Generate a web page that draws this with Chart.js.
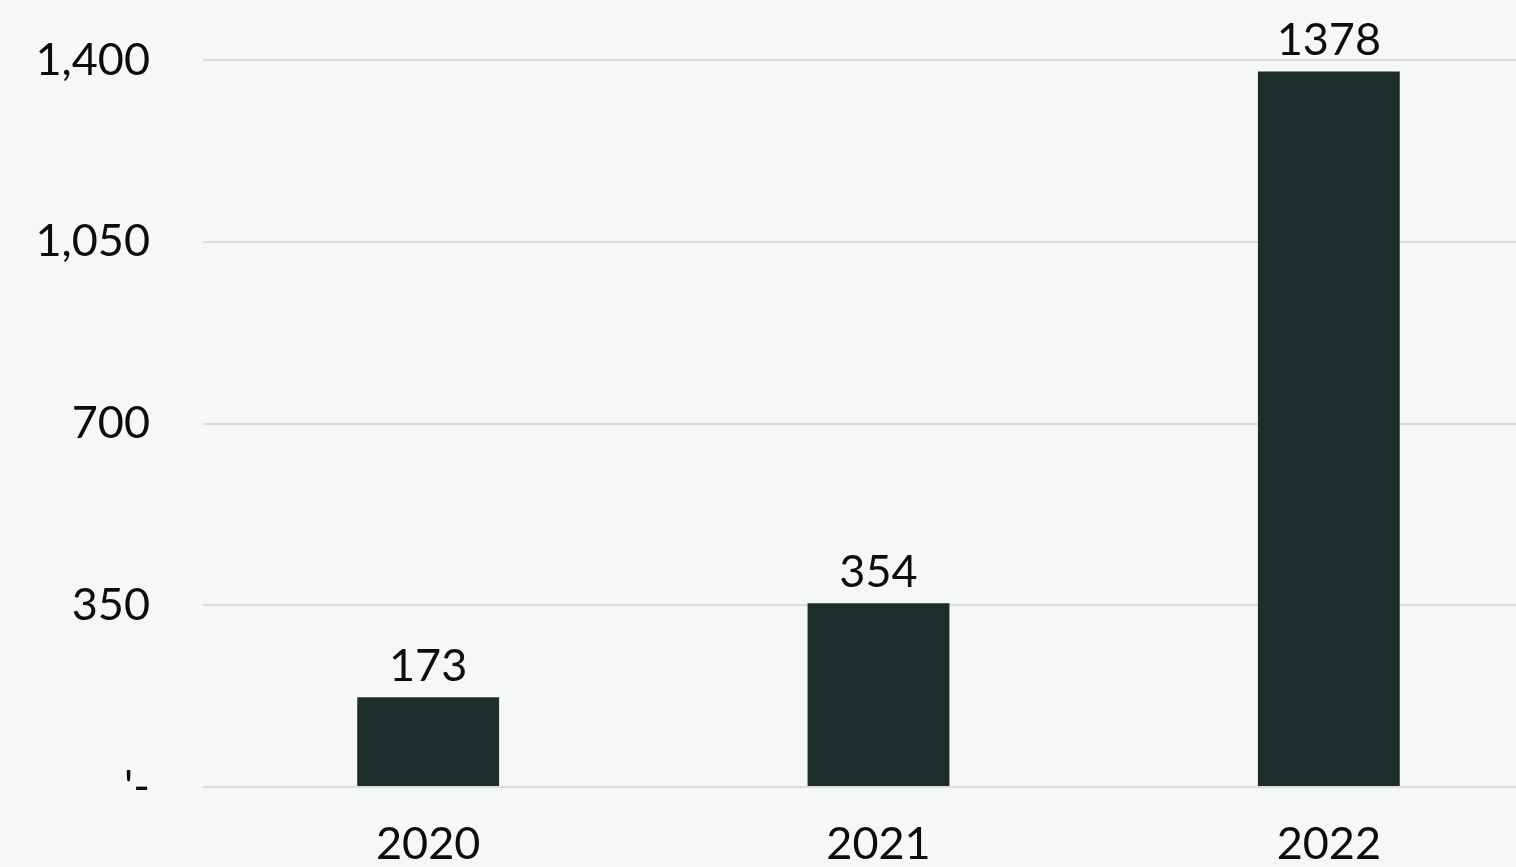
<!DOCTYPE html>
<html>
<head>
<meta charset="utf-8">
<script src="https://cdn.jsdelivr.net/npm/chart.js@4/dist/chart.umd.min.js"></script>
<style>
html,body{margin:0;padding:0;background:#f6f8f7;overflow:hidden;}
canvas{display:block;}
</style>
</head>
<body>
<canvas id="c" width="1560" height="867"></canvas>
<script>
const categories = ['2020', '2021', '2022'];
const values = [173, 354, 1378];
const tickValues = [0, 350, 700, 1050, 1400];
const tickLabels = ["'-", '350', '700', '1,050', '1,400'];

const FONT = 'Lato, "Open Sans", sans-serif';

const valueLabels = {
  id: 'valueLabels',
  afterDatasetsDraw(chart) {
    const ctx = chart.ctx;
    const meta = chart.getDatasetMeta(0);
    ctx.save();
    ctx.font = '45px ' + FONT;
    ctx.fillStyle = '#0d0d0d';
    ctx.textAlign = 'center';
    ctx.textBaseline = 'alphabetic';
    meta.data.forEach((bar, i) => {
      ctx.fillText(String(values[i]), bar.x, bar.y - 16);
    });
    ctx.restore();
  }
};

new Chart(document.getElementById('c'), {
  type: 'bar',
  data: {
    labels: categories,
    datasets: [{
      data: values,
      backgroundColor: '#1f2c2c',
      borderWidth: 0,
      categoryPercentage: 1.0,
      barPercentage: 0.315
    }]
  },
  options: {
    responsive: false,
    animation: false,
    devicePixelRatio: 1,
    layout: { padding: { top: 60, right: 6, left: 0, bottom: 0 } },
    plugins: { legend: { display: false }, tooltip: { enabled: false } },
    scales: {
      x: {
        grid: { display: false },
        border: { display: false },
        ticks: { font: { family: FONT, size: 45 }, color: '#0d0d0d', padding: 22 },
        afterFit(scale) { scale.height = 80; scale.paddingLeft = 0; scale.paddingRight = 0; }
      },
      y: {
        min: 0,
        max: 1400,
        afterBuildTicks(scale) { scale.ticks = tickValues.map(v => ({ value: v })); },
        grid: { color: '#dcdcdc', lineWidth: 2, drawTicks: false },
        border: { display: false },
        ticks: {
          font: { family: FONT, size: 45 },
          color: '#0d0d0d',
          padding: 53,
          callback(value) { return tickLabels[tickValues.indexOf(value)]; }
        },
        afterFit(scale) { scale.width = 203; scale.paddingTop = 0; scale.paddingBottom = 0; }
      }
    }
  },
  plugins: [valueLabels]
});
</script>
</body>
</html>
